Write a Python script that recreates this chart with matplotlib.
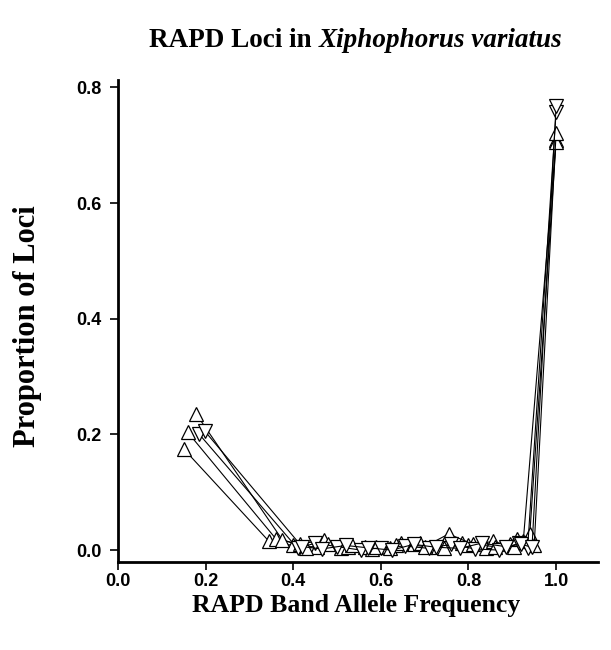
import matplotlib
matplotlib.use("Agg")
import matplotlib.pyplot as plt

# binned RAPD band allele frequencies for five samples
x1 = [0.150, 0.345, 0.400, 0.455, 0.510, 0.565, 0.620, 0.675, 0.730, 0.785, 0.840, 0.895, 0.925, 1.0]
y1 = [0.175, 0.015, 0.008, 0.005, 0.004, 0.006, 0.003, 0.010, 0.005, 0.012, 0.004, 0.010, 0.015, 0.710]
x2 = [0.159, 0.360, 0.415, 0.470, 0.525, 0.580, 0.635, 0.690, 0.745, 0.800, 0.855, 0.905, 0.940, 1.0]
y2 = [0.204, 0.020, 0.010, 0.018, 0.006, 0.002, 0.008, 0.012, 0.004, 0.008, 0.015, 0.006, 0.028, 0.706]
x3 = [0.179, 0.375, 0.430, 0.480, 0.535, 0.590, 0.645, 0.700, 0.755, 0.810, 0.860, 0.910, 0.950, 1.0]
y3 = [0.235, 0.018, 0.004, 0.010, 0.008, 0.005, 0.012, 0.006, 0.028, 0.010, 0.006, 0.020, 0.008, 0.721]
x4 = [0.186, 0.410, 0.450, 0.500, 0.555, 0.600, 0.655, 0.710, 0.760, 0.815, 0.870, 0.915, 0.935, 1.0]
y4 = [0.200, 0.003, 0.012, 0.006, 0.000, 0.004, 0.007, 0.003, 0.010, 0.002, 0.000, 0.012, 0.003, 0.758]
x5 = [0.198, 0.420, 0.465, 0.520, 0.570, 0.625, 0.675, 0.725, 0.780, 0.830, 0.885, 0.920, 0.945, 1.0]
y5 = [0.206, 0.006, 0.002, 0.008, 0.004, 0.000, 0.010, 0.005, 0.003, 0.012, 0.006, 0.010, 0.005, 0.768]

xticks = [0.0, 0.2, 0.4, 0.6, 0.8, 1.0]
yticks = [0.0, 0.2, 0.4, 0.6, 0.8]

fig = plt.figure(figsize=(6.11, 6.5), dpi=100)
ax = fig.add_axes([0.193, 0.135, 0.786, 0.742])

series = [(x1, y1, '^'), (x2, y2, '^'), (x3, y3, '^'), (x4, y4, 'v'), (x5, y5, 'v')]
for xs, ys, m in series:
    ax.plot(xs, ys, color='black', lw=0.8, marker=m, markersize=10.5,
            markerfacecolor='white', markeredgecolor='black', markeredgewidth=0.9)

ax.set_xlim(0, 1.096)
ax.set_ylim(-0.021, 0.813)
ax.set_xticks(xticks)
ax.set_yticks(yticks)
ax.set_xticklabels(['%.1f' % v for v in xticks])
ax.set_yticklabels(['%.1f' % v for v in yticks])
for lab in ax.get_xticklabels() + ax.get_yticklabels():
    lab.set_fontfamily('Liberation Sans')
    lab.set_fontweight('bold')
    lab.set_fontsize(13)
ax.tick_params(direction='out', length=5.5, width=1.2)
ax.tick_params(axis='y', pad=6)
ax.tick_params(axis='x', pad=2)
ax.spines['top'].set_visible(False)
ax.spines['right'].set_visible(False)
ax.spines['left'].set_linewidth(2)
ax.spines['bottom'].set_linewidth(2)

ax.set_ylabel('Proportion of Loci', fontfamily='Liberation Serif',
              fontweight='bold', fontsize=22)
ax.yaxis.set_label_coords(-0.158, 0.49)
ax.set_xlabel('RAPD Band Allele Frequency', fontfamily='Liberation Serif',
              fontweight='bold', fontsize=18.5)
ax.xaxis.set_label_coords(0.496, -0.066)

# title: regular bold part followed by bold italic species name
fig.canvas.draw()
t1 = fig.text(0, 0.938, 'RAPD Loci in ', fontfamily='Liberation Serif',
              fontweight='bold', fontsize=19.5, va='center')
t2 = fig.text(0, 0.938, 'Xiphophorus variatus', fontfamily='Liberation Serif',
              fontweight='bold', fontstyle='italic', fontsize=19.5, va='center')
r = fig.canvas.get_renderer()
w1 = t1.get_window_extent(r).width / fig.bbox.width
w2 = t2.get_window_extent(r).width / fig.bbox.width
cx = 0.582
t1.set_x(cx - (w1 + w2) / 2)
t2.set_x(cx - (w1 + w2) / 2 + w1)

fig.savefig('out.png', dpi=100)
